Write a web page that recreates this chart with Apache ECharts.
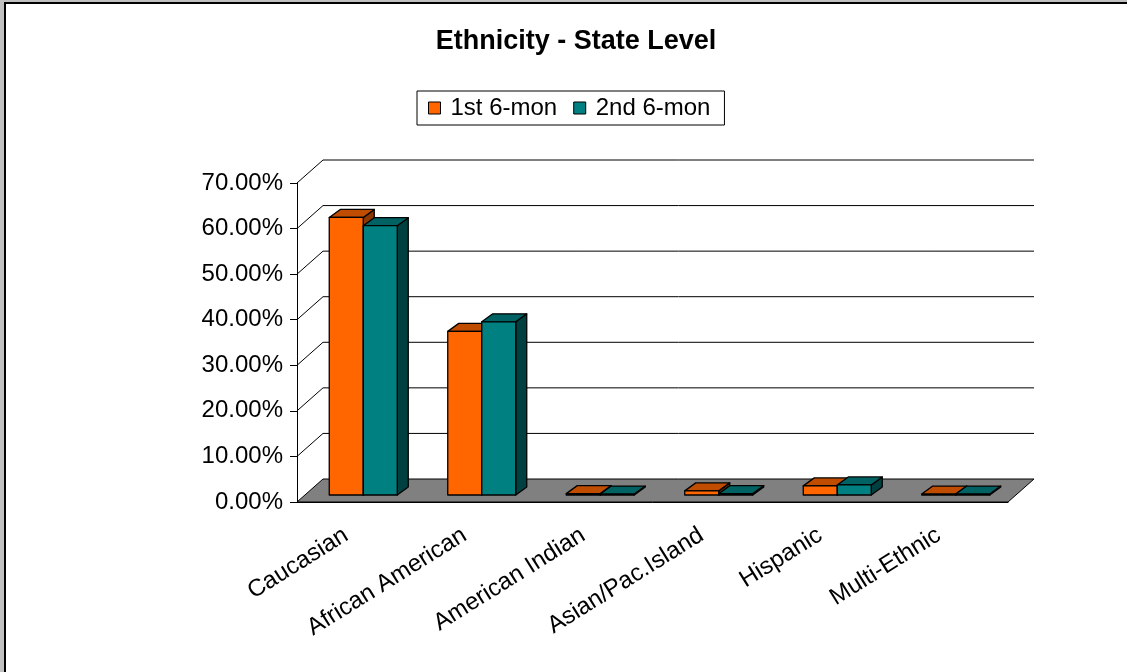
<!DOCTYPE html>
<html>
<head>
<meta charset="utf-8">
<script src="https://cdn.jsdelivr.net/npm/echarts@6/dist/echarts.min.js"></script>
<style>
  html, body { margin: 0; padding: 0; background: #fff; }
  #chart { width: 1127px; height: 672px; }
</style>
</head>
<body>
<div id="chart"></div>
<script>
// Ethnicity shares for the two half-year periods
const categories = ['Caucasian', 'African American', 'American Indian', 'Asian/Pac.Island', 'Hispanic', 'Multi-Ethnic'];
const firstHalf  = [0.609, 0.359, 0.003, 0.009, 0.020, 0.002];
const secondHalf = [0.591, 0.380, 0.002, 0.003, 0.022, 0.002];
const gridValues = [0.1, 0.2, 0.3, 0.4, 0.5, 0.6, 0.7];
const seriesNames = ['1st 6-mon', '2nd 6-mon'];

const FONT = '"Liberation Sans", Arial, sans-serif';

// pseudo-3D geometry (pixels)
const WALL_DX = 26, WALL_DY = -23;   // floor / back wall depth
const BAR_OX = 7, BAR_OY = -7;       // bar front plane inside the floor
const BAR_DX = 11, BAR_DY = -8;      // bar depth
const BAR_W = 34;

const palette = [
  { front: '#FF6600', top: '#C04C00', side: '#8A3700' },
  { front: '#008080', top: '#006262', side: '#004040' }
];

function barRenderer(s) {
  return function (params, api) {
    const idx = api.value(0), v = api.value(1);
    const base = api.coord([idx, 0]);
    const topPt = api.coord([idx, v]);
    const x0 = base[0] + BAR_OX - (s === 0 ? BAR_W : 0);
    const x1 = x0 + BAR_W;
    const yb = base[1] + BAR_OY, yt = topPt[1] + BAR_OY;
    const c = palette[s];
    const edge = { stroke: '#000', lineWidth: 1.3, lineJoin: 'round' };
    return {
      type: 'group',
      children: [
        { type: 'polygon',
          shape: { points: [[x1, yt], [x1 + BAR_DX, yt + BAR_DY], [x1 + BAR_DX, yb + BAR_DY], [x1, yb]] },
          style: Object.assign({ fill: c.side }, edge) },
        { type: 'polygon',
          shape: { points: [[x0, yt], [x1, yt], [x1 + BAR_DX, yt + BAR_DY], [x0 + BAR_DX, yt + BAR_DY]] },
          style: Object.assign({ fill: c.top }, edge) },
        { type: 'rect',
          shape: { x: x0, y: yt, width: BAR_W, height: yb - yt },
          style: Object.assign({ fill: c.front }, edge) }
      ]
    };
  };
}

function wallRenderer(params, api) {
  const cs = params.coordSys;
  const y = api.coord([0, api.value(1)])[1];
  return {
    type: 'polyline',
    shape: { points: [[cs.x, y], [cs.x + WALL_DX, y + WALL_DY], [cs.x + cs.width + WALL_DX, y + WALL_DY]] },
    style: { stroke: '#000', lineWidth: 1, fill: null }
  };
}

function floorRenderer(params, api) {
  const cs = params.coordSys;
  const y = api.coord([0, 0])[1];
  const xl = cs.x, xr = cs.x + cs.width;
  return {
    type: 'polygon',
    shape: { points: [[xl, y], [xr, y], [xr + WALL_DX, y + WALL_DY], [xl + WALL_DX, y + WALL_DY]] },
    style: { fill: '#808080', stroke: '#000', lineWidth: 1 }
  };
}

const chart = echarts.init(document.getElementById('chart'));
chart.setOption({
  backgroundColor: '#c0c0c0',
  animation: false,
  graphic: [{
    type: 'rect', z: -100, silent: true,
    shape: { x: 5, y: 3, width: 1300, height: 900 },
    style: { fill: '#fff', stroke: '#000', lineWidth: 2 }
  }],
  title: {
    text: 'Ethnicity - State Level',
    left: 571, top: 23, textAlign: 'center',
    textStyle: { fontFamily: FONT, fontSize: 27, fontWeight: 'bold', color: '#000' }
  },
  legend: {
    data: seriesNames,
    left: 417, top: 91,
    padding: [5, 14, 5, 11],
    borderColor: '#000', borderWidth: 1,
    itemWidth: 12, itemHeight: 12, itemGap: 16,
    icon: 'rect',
    itemStyle: { borderColor: '#000', borderWidth: 1 },
    textStyle: { fontFamily: FONT, fontSize: 24, color: '#000', padding: [0, 0, 0, 5] }
  },
  grid: { left: 297, right: 119, top: 183, bottom: 170, outerBoundsMode: 'none' },
  xAxis: {
    type: 'category',
    data: categories,
    boundaryGap: true,
    axisLine: { lineStyle: { color: '#000', width: 1 } },
    axisTick: { length: 6, alignWithLabel: false, interval: 0, lineStyle: { color: '#000' } },
    axisLabel: { rotate: 32, interval: 0, margin: 25, padding: [0, 12, 0, 0],
                 fontFamily: FONT, fontSize: 24, color: '#000' },
    splitLine: { show: false }
  },
  yAxis: {
    type: 'value',
    min: 0, max: 0.7, interval: 0.1,
    axisLine: { show: true, lineStyle: { color: '#000', width: 1 } },
    axisTick: { show: true, length: 7, lineStyle: { color: '#000' } },
    axisLabel: { margin: 14, fontFamily: FONT, fontSize: 24, color: '#000',
                 formatter: v => (v * 100).toFixed(2) + '%' },
    splitLine: { show: false }
  },
  series: [
    { type: 'custom', name: 'floor', z: 1, clip: false, silent: true,
      renderItem: floorRenderer, data: [[0, 0]] },
    { type: 'custom', name: 'wall', z: 1, clip: false, silent: true,
      renderItem: wallRenderer, data: gridValues.map(v => [0, v]) },
    { type: 'custom', name: seriesNames[0], z: 3, clip: false,
      itemStyle: { color: palette[0].front },
      renderItem: barRenderer(0), data: firstHalf.map((v, i) => [i, v]) },
    { type: 'custom', name: seriesNames[1], z: 4, clip: false,
      itemStyle: { color: palette[1].front },
      renderItem: barRenderer(1), data: secondHalf.map((v, i) => [i, v]) }
  ]
});
</script>
</body>
</html>
